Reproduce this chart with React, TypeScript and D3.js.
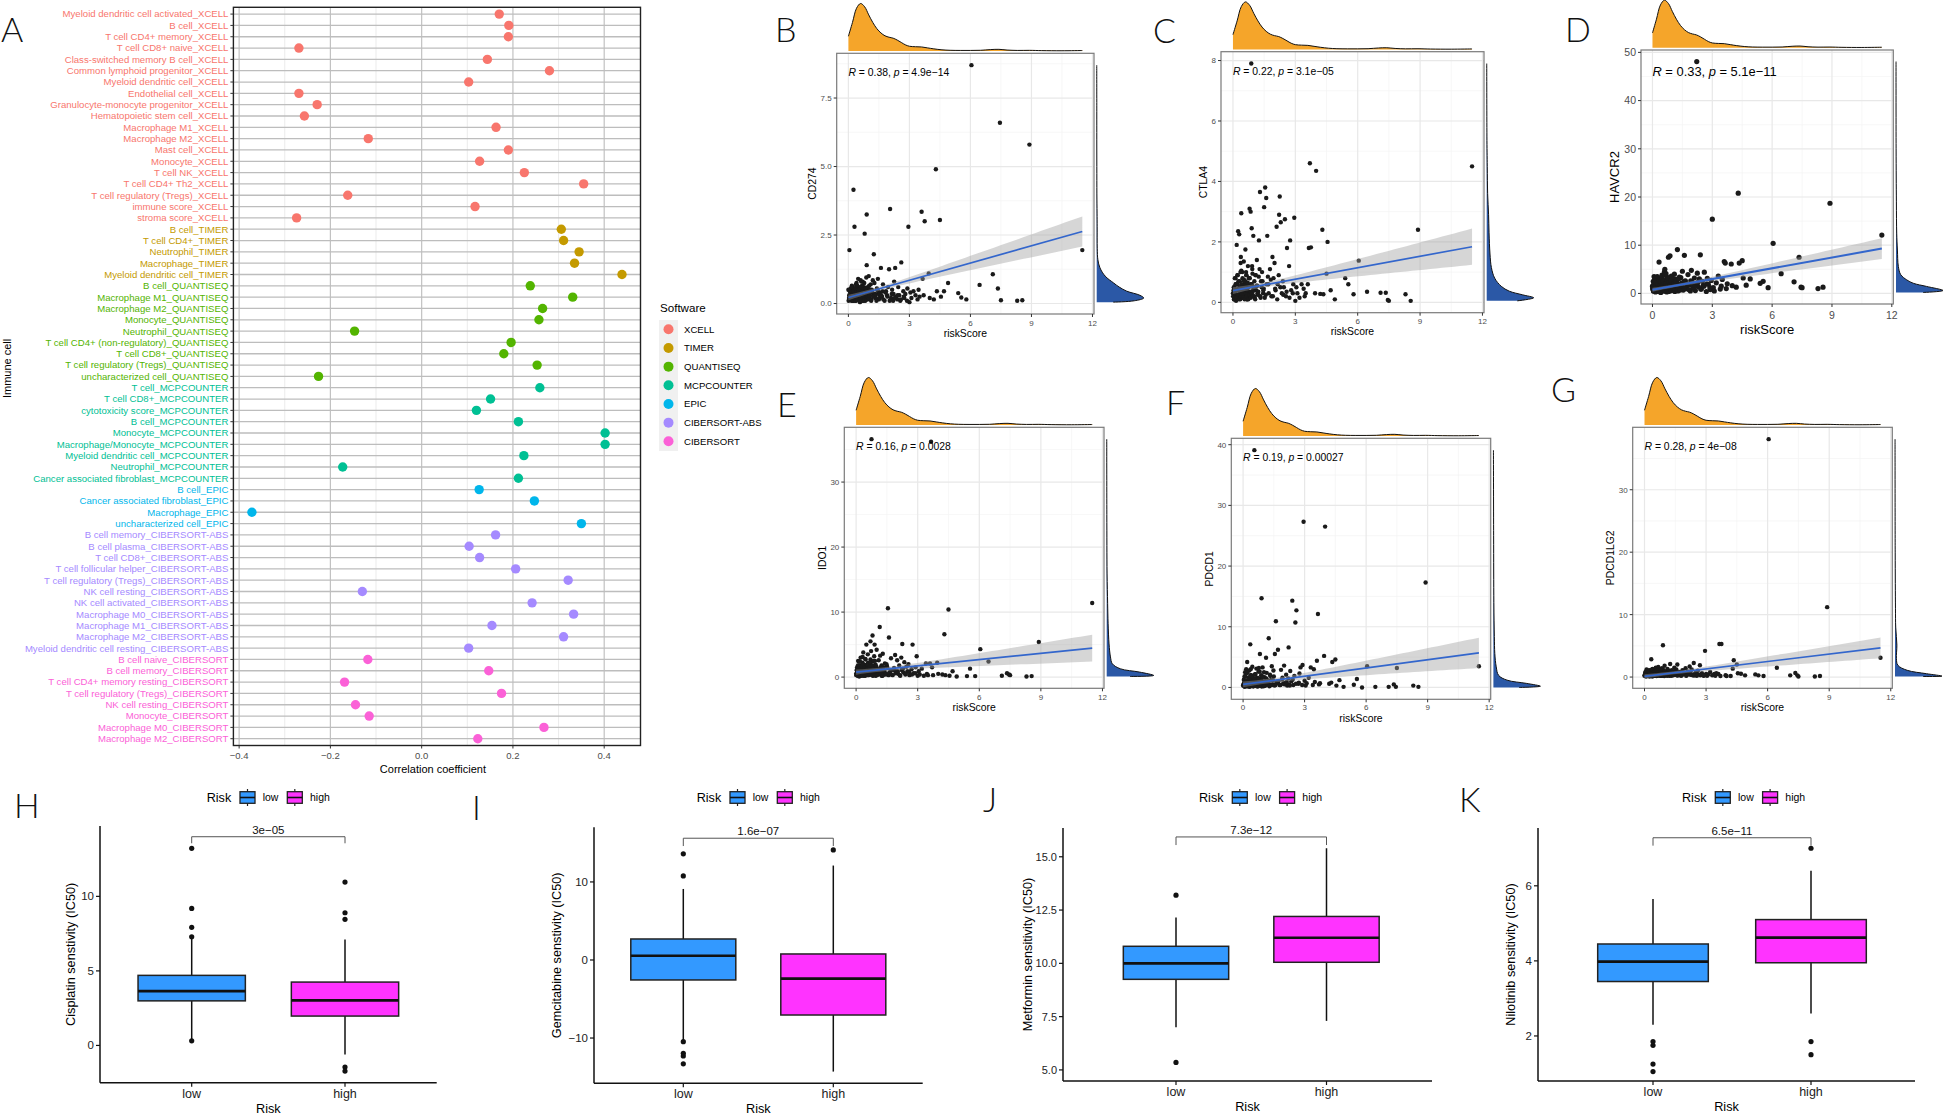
import React from "react";
import * as d3 from "d3";

const FONT = "'Liberation Sans', Arial, Helvetica, sans-serif";
const LETTER_FONT = "Lato, 'Open Sans', 'DejaVu Sans', sans-serif";

// ---------------- Panel A data ----------------
const immuneCells = [
  "Myeloid dendritic cell activated_XCELL", "B cell_XCELL", "T cell CD4+ memory_XCELL", "T cell CD8+ naive_XCELL",
  "Class-switched memory B cell_XCELL", "Common lymphoid progenitor_XCELL", "Myeloid dendritic cell_XCELL",
  "Endothelial cell_XCELL", "Granulocyte-monocyte progenitor_XCELL", "Hematopoietic stem cell_XCELL",
  "Macrophage M1_XCELL", "Macrophage M2_XCELL", "Mast cell_XCELL", "Monocyte_XCELL", "T cell NK_XCELL",
  "T cell CD4+ Th2_XCELL", "T cell regulatory (Tregs)_XCELL", "immune score_XCELL", "stroma score_XCELL",
  "B cell_TIMER", "T cell CD4+_TIMER", "Neutrophil_TIMER", "Macrophage_TIMER", "Myeloid dendritic cell_TIMER",
  "B cell_QUANTISEQ", "Macrophage M1_QUANTISEQ", "Macrophage M2_QUANTISEQ", "Monocyte_QUANTISEQ",
  "Neutrophil_QUANTISEQ", "T cell CD4+ (non-regulatory)_QUANTISEQ", "T cell CD8+_QUANTISEQ",
  "T cell regulatory (Tregs)_QUANTISEQ", "uncharacterized cell_QUANTISEQ",
  "T cell_MCPCOUNTER", "T cell CD8+_MCPCOUNTER", "cytotoxicity score_MCPCOUNTER", "B cell_MCPCOUNTER",
  "Monocyte_MCPCOUNTER", "Macrophage/Monocyte_MCPCOUNTER", "Myeloid dendritic cell_MCPCOUNTER",
  "Neutrophil_MCPCOUNTER", "Cancer associated fibroblast_MCPCOUNTER",
  "B cell_EPIC", "Cancer associated fibroblast_EPIC", "Macrophage_EPIC", "uncharacterized cell_EPIC",
  "B cell memory_CIBERSORT-ABS", "B cell plasma_CIBERSORT-ABS", "T cell CD8+_CIBERSORT-ABS",
  "T cell follicular helper_CIBERSORT-ABS", "T cell regulatory (Tregs)_CIBERSORT-ABS", "NK cell resting_CIBERSORT-ABS",
  "NK cell activated_CIBERSORT-ABS", "Macrophage M0_CIBERSORT-ABS", "Macrophage M1_CIBERSORT-ABS",
  "Macrophage M2_CIBERSORT-ABS", "Myeloid dendritic cell resting_CIBERSORT-ABS",
  "B cell naive_CIBERSORT", "B cell memory_CIBERSORT", "T cell CD4+ memory resting_CIBERSORT",
  "T cell regulatory (Tregs)_CIBERSORT", "NK cell resting_CIBERSORT", "Monocyte_CIBERSORT",
  "Macrophage M0_CIBERSORT", "Macrophage M2_CIBERSORT",
];
const correlationCoef = [
  0.170, 0.191, 0.190, -0.269, 0.144, 0.280, 0.103, -0.269, -0.229, -0.257,
  0.163, -0.117, 0.190, 0.127, 0.225, 0.355, -0.162, 0.117, -0.274,
  0.306, 0.311, 0.345, 0.335, 0.439,
  0.238, 0.331, 0.265, 0.257, -0.147, 0.196, 0.180, 0.253, -0.226,
  0.259, 0.151, 0.120, 0.212, 0.402, 0.402, 0.224, -0.173, 0.212,
  0.126, 0.247, -0.372, 0.350,
  0.162, 0.104, 0.127, 0.206, 0.321, -0.130, 0.242, 0.333, 0.154, 0.311, 0.103,
  -0.118, 0.147, -0.169, 0.175, -0.145, -0.115, 0.268, 0.123,
];
const softwareLevels = ["XCELL", "TIMER", "QUANTISEQ", "MCPCOUNTER", "EPIC", "CIBERSORT-ABS", "CIBERSORT"];
const softwareColors = ["#F8766D", "#C49A00", "#53B400", "#00C094", "#00B6EB", "#A58AFF", "#FB61D7"];
const corrTicks = [-0.4, -0.2, 0, 0.2, 0.4];

// ---------------- Scatter data (B-G) ----------------
const riskScoreCluster = [
  0.0, 0.05, 0.08, 0.1, 0.12, 0.15, 0.18, 0.2, 0.22, 0.25,
  0.28, 0.3, 0.33, 0.35, 0.38, 0.4, 0.42, 0.45, 0.48, 0.5,
  0.52, 0.55, 0.57, 0.6, 0.62, 0.65, 0.67, 0.7, 0.72, 0.75,
  0.78, 0.8, 0.82, 0.85, 0.88, 0.9, 0.93, 0.95, 0.98, 1.0,
  1.05, 1.1, 1.12, 1.15, 1.2, 1.25, 1.3, 1.35, 1.4, 1.45,
  1.5, 1.55, 1.6, 1.65, 1.7, 1.78, 1.85, 1.9, 1.95, 2.0,
  2.05, 2.1, 2.15, 2.2, 2.22, 2.25, 2.3, 2.35, 2.4, 2.45,
  2.5, 2.55, 2.6, 2.7, 2.75, 2.8, 2.9, 2.95, 3.0, 3.05,
  3.1, 3.2, 3.3, 3.4, 3.45, 3.5, 0.4, 0.6, 0.7, 0.9,
  0.03, 0.07, 0.13, 0.17, 0.23, 0.27, 0.32, 0.37, 0.43, 0.47,
  0.53, 0.58, 0.63, 0.68, 0.73, 0.77, 0.83, 0.87, 0.92, 0.97,
  1.02, 1.08, 1.17, 1.22, 1.28, 1.33, 1.42, 1.48, 1.58, 1.68,
  0.01, 0.04, 0.06, 0.09, 0.11, 0.14, 0.16, 0.19, 0.21, 0.24,
  0.26, 0.29, 0.31, 0.34, 0.36, 0.39, 0.41, 0.44, 0.46, 0.49,
  0.51, 0.54, 0.56, 0.59, 0.61, 0.64, 0.66, 0.69, 0.71, 0.74,
  0.76, 0.79, 0.81, 0.84, 0.86, 0.89, 0.91, 0.94, 0.96, 0.99,
  1.03, 1.07, 1.13, 1.18, 1.24, 1.31, 1.38, 1.46, 1.53, 1.62,
  1.72, 1.82, 1.92, 2.03, 2.13, 2.28, 2.42, 2.58, 2.72, 2.88,
];
const riskScoreTail = [3.6, 3.65, 3.7, 3.75, 3.95, 4.0, 4.2, 4.3, 4.35, 4.5, 4.55, 4.7, 4.9, 5.4, 5.55, 5.8, 6.05, 6.45, 7.1, 7.35, 7.45, 7.5, 8.3, 8.55, 8.9, 11.5];

const cd274Cluster = [
  0.5, 1.95, 0.3, 0.15, 0.55, 0.1, 0.4, 0.2, 0.6, 4.15,
  0.25, 2.8, 0.5, 0.1, 0.35, 0.75, 0.2, 0.45, 0.9, 0.15,
  0.6, 0.3, 0.05, 0.85, 0.4, 0.2, 0.65, 0.1, 0.5, 0.3,
  0.75, 2.55, 0.2, 0.45, 0.95, 3.25, 0.15, 0.6, 0.35, 1.0,
  0.25, 0.7, 0.1, 0.5, 0.85, 1.8, 0.3, 0.2, 0.55, 0.9,
  0.15, 0.4, 1.3, 0.25, 0.7, 0.1, 0.45, 0.3, 0.6, 1.25,
  3.45, 0.2, 0.5, 0.1, 0.35, 0.8, 1.3, 0.25, 0.15, 0.6,
  0.3, 0.1, 1.5, 0.45, 0.2, 0.35, 0.55, 2.8, 0.05, 0.4,
  0.2, 0.45, 0.3, 0.15, 0.5, 0.25, 0.6, 0.35, 0.8, 1.4,
  0.2, 0.45, 0.3, 0.65, 0.1, 0.5, 0.25, 0.7, 0.15, 0.4,
  0.55, 0.3, 0.8, 0.2, 0.45, 0.6, 0.1, 0.35, 0.5, 0.25,
  0.65, 0.15, 0.4, 0.3, 0.75, 0.2, 0.5, 0.35, 0.25, 0.45,
  0.1, 0.3, 0.5, 0.2, 0.4, 0.15, 0.6, 0.25, 0.35, 0.1,
  0.45, 0.2, 0.3, 0.55, 0.1, 0.4, 0.25, 0.65, 0.15, 0.35,
  0.5, 0.1, 0.3, 0.2, 0.45, 0.6, 0.15, 0.35, 0.25, 0.5,
  0.1, 0.4, 0.2, 0.3, 0.55, 0.15, 0.45, 0.25, 0.35, 0.2,
  0.3, 0.5, 0.15, 0.4, 0.25, 0.35, 0.1, 0.45, 0.2, 0.3,
  0.15, 0.4, 0.25, 0.1, 0.35, 0.2, 0.3, 0.15, 0.25, 0.1,
];
const cd274Tail = [3.35, 0.9, 0.3, 3.0, 1.1, 0.2, 0.15, 4.9, 0.45, 3.05, 0.25, 0.45, 0.75, 0.38, 0.22, 0.15, 8.7, 0.68, 1.07, 0.55, 6.6, 0.12, 0.1, 0.12, 5.8, 1.95];

const ctla4Cluster = [
  0.3, 0.1, 0.5, 0.2, 0.8, 0.05, 1.9, 0.4, 0.6, 2.35,
  0.25, 2.25, 0.7, 0.1, 1.5, 2.95, 0.35, 1.0, 0.5, 0.15,
  1.35, 0.6, 0.2, 1.75, 0.4, 0.9, 0.1, 0.55, 1.2, 0.3,
  0.8, 3.1, 0.2, 3.0, 7.9, 0.6, 1.1, 0.35, 2.2, 0.5,
  0.15, 0.9, 0.4, 1.4, 0.25, 2.05, 3.65, 0.7, 1.0, 0.3,
  3.15, 3.8, 3.45, 2.2, 0.6, 1.1, 0.2, 1.5, 0.8, 1.3,
  0.4, 2.5, 0.6, 0.9, 2.9, 3.5, 2.65, 0.3, 0.7, 0.5,
  2.75, 0.2, 1.8, 1.2, 2.05, 0.4, 0.6, 2.8, 0.05, 0.5,
  0.3, 0.15, 0.6, 0.45, 0.2, 0.3, 1.05, 0.7, 0.2, 2.45,
  0.4, 0.1, 0.6, 0.25, 0.9, 0.45, 0.15, 1.3, 0.5, 0.2,
  0.75, 0.35, 1.0, 0.1, 0.5, 0.8, 0.3, 0.6, 1.2, 0.4,
  0.2, 0.9, 0.55, 0.35, 1.1, 0.15, 0.7, 0.45, 0.25, 0.85,
  0.2, 0.5, 0.1, 0.8, 0.3, 0.6, 0.15, 0.4, 0.9, 0.25,
  0.7, 0.1, 0.5, 0.35, 1.0, 0.2, 0.6, 0.3, 0.8, 0.15,
  0.45, 0.7, 0.1, 0.55, 0.3, 0.9, 0.2, 0.4, 0.65, 0.1,
  0.5, 0.25, 0.8, 0.35, 0.15, 0.6, 0.3, 0.95, 0.2, 0.45,
  0.7, 0.1, 0.55, 0.3, 0.85, 0.2, 0.5, 0.4, 0.15, 0.6,
  0.3, 0.75, 0.2, 0.45, 0.1, 0.5, 0.25, 0.35, 0.15, 0.3,
];
const ctla4Tail = [0.6, 1.8, 4.6, 1.82, 0.3, 4.35, 0.28, 2.4, 0.27, 0.95, 2.0, 0.4, 0.1, 0.8, 0.6, 0.27, 1.38, 0.35, 0.32, 0.32, 0.08, 0.05, 0.27, 0.05, 2.4, 4.5];

const havcr2Cluster = [
  1.5, 0.5, 3.5, 1.0, 2.2, 0.3, 1.8, 0.8, 2.6, 1.2,
  0.4, 3.0, 6.5, 1.6, 0.9, 2.4, 0.2, 1.3, 3.8, 0.7,
  2.0, 1.1, 0.5, 4.5, 5.0, 1.4, 0.8, 2.8, 0.3, 1.9,
  3.3, 7.5, 1.0, 2.2, 7.8, 0.6, 1.5, 3.6, 0.9, 2.5,
  1.2, 4.0, 0.4, 1.7, 2.9, 9.1, 0.8, 3.4, 1.3, 2.1,
  4.6, 0.7, 7.9, 2.6, 1.0, 3.9, 1.8, 0.5, 4.8, 2.3,
  1.1, 3.2, 0.6, 2.0, 48.1, 4.2, 1.4, 3.0, 8.0, 0.9,
  2.5, 1.6, 4.4, 0.4, 3.1, 1.9, 0.8, 2.7, 15.4, 1.2,
  0.5, 2.2, 3.6, 0.9, 1.5, 2.9, 1.7, 0.6, 2.4, 1.1,
  0.8, 2.0, 1.2, 3.2, 0.5, 1.6, 2.7, 0.9, 1.3, 3.5,
  0.7, 2.3, 1.0, 4.1, 0.4, 1.8, 2.6, 1.1, 0.6, 2.0,
  3.0, 0.9, 1.4, 2.2, 0.5, 1.7, 3.3, 0.8, 2.5, 1.2,
  1.0, 2.5, 0.5, 1.8, 3.0, 0.8, 1.5, 2.2, 0.4, 3.5,
  1.2, 2.0, 0.7, 2.8, 1.6, 0.3, 2.4, 1.1, 3.2, 0.6,
  1.9, 2.6, 0.9, 1.4, 3.8, 0.5, 2.1, 1.3, 2.9, 0.8,
  1.7, 3.1, 0.4, 2.3, 1.0, 1.5, 2.7, 0.6, 1.8, 3.4,
  1.2, 2.0, 0.9, 2.5, 1.4, 3.0, 0.7, 1.6, 2.2, 1.1,
  1.9, 0.8, 2.6, 1.3, 1.7, 2.3, 0.9, 1.5, 2.0, 1.2,
];
const havcr2Tail = [6.6, 6.3, 1.0, 2.0, 6.1, 1.6, 1.3, 20.8, 6.3, 6.8, 3.2, 1.7, 3.0, 2.1, 2.5, 1.2, 10.4, 4.1, 2.4, 7.5, 1.3, 1.2, 1.0, 1.3, 18.7, 12.1];

const ido1Cluster = [
  0.5, 1.5, 0.2, 2.5, 0.8, 0.1, 1.8, 0.4, 3.0, 1.0,
  0.3, 2.2, 0.6, 3.8, 0.2, 1.2, 0.9, 2.8, 0.5, 5.0,
  1.6, 0.3, 3.5, 0.8, 2.0, 0.4, 1.3, 5.5, 0.6, 36.6,
  2.4, 6.4, 0.2, 1.1, 3.2, 5.0, 0.7, 1.9, 0.3, 4.2,
  1.0, 2.6, 0.5, 7.7, 1.5, 0.2, 3.6, 0.8, 2.1, 0.4,
  1.7, 10.6, 6.1, 0.6, 2.9, 0.3, 1.4, 3.4, 0.9, 2.6,
  0.5, 1.8, 0.2, 3.0, 1.1, 5.1, 0.7, 2.3, 0.4, 1.6,
  0.9, 2.0, 0.3, 1.2, 5.0, 0.6, 1.5, 3.2, 0.2, 0.9,
  0.4, 1.3, 0.2, 2.1, 0.5, 0.3, 1.9, 0.8, 2.7, 0.6,
  1.1, 0.3, 2.4, 0.7, 1.6, 0.2, 3.1, 0.9, 0.5, 1.4,
  0.8, 2.2, 0.4, 1.0, 4.0, 0.6, 1.8, 0.3, 2.5, 0.7,
  1.2, 0.4, 3.3, 0.9, 0.2, 1.5, 0.6, 2.0, 0.3, 1.1,
  0.3, 1.0, 0.6, 1.8, 0.2, 1.3, 0.8, 2.4, 0.4, 1.1,
  0.7, 1.6, 0.3, 2.0, 0.9, 0.5, 1.4, 0.2, 2.7, 0.6,
  1.2, 0.4, 1.9, 0.8, 0.3, 1.5, 0.6, 2.2, 1.0, 0.4,
  1.7, 0.3, 1.1, 0.7, 2.5, 0.5, 1.3, 0.9, 0.2, 1.6,
  0.8, 0.4, 1.2, 0.6, 1.8, 0.3, 1.0, 0.5, 1.4, 0.7,
  0.4, 1.1, 0.6, 0.9, 0.3, 1.3, 0.5, 0.8, 0.4, 0.6,
];
const ido1Tail = [2.1, 36.2, 1.5, 0.3, 2.2, 0.5, 0.4, 6.6, 0.3, 10.4, 0.2, 0.9, 0.1, 0.15, 1.3, 0.15, 4.3, 2.4, 0.2, 0.6, 0.4, 0.3, 0.1, 0.15, 5.4, 11.4];

const pdcd1Cluster = [
  0.3, 1.2, 0.1, 2.5, 0.5, 3.0, 0.2, 4.2, 0.8, 1.6,
  0.4, 2.8, 0.1, 7.1, 0.6, 1.9, 0.3, 3.4, 0.9, 0.2,
  1.4, 39.1, 0.5, 2.2, 0.7, 3.1, 0.2, 1.1, 0.4, 2.6,
  0.8, 1.5, 5.5, 0.3, 2.0, 14.7, 0.6, 3.3, 1.0, 0.2,
  1.7, 0.4, 4.9, 2.4, 0.7, 8.1, 0.3, 1.2, 3.5, 0.5,
  1.8, 5.5, 10.9, 0.9, 6.2, 0.4, 2.9, 1.3, 0.6, 3.6,
  0.8, 2.1, 0.3, 1.5, 6.6, 0.5, 2.7, 1.0, 14.3, 0.4,
  1.9, 10.7, 12.7, 0.6, 2.3, 3.3, 3.7, 27.3, 1.1, 0.3,
  0.7, 1.6, 3.3, 0.4, 3.0, 0.9, 2.0, 0.5, 1.3, 0.2,
  0.6, 1.8, 0.3, 2.4, 0.9, 0.2, 1.4, 3.0, 0.5, 1.1,
  0.3, 2.1, 0.7, 1.5, 0.2, 3.2, 0.8, 0.4, 1.7, 0.6,
  2.5, 0.3, 1.2, 0.9, 0.2, 1.9, 0.5, 2.8, 0.4, 1.0,
  0.4, 1.3, 0.2, 0.8, 1.9, 0.3, 1.1, 0.6, 2.4, 0.2,
  0.9, 1.5, 0.4, 0.7, 2.0, 0.3, 1.2, 0.5, 1.7, 0.2,
  0.8, 1.4, 0.3, 2.2, 0.6, 1.0, 0.4, 1.6, 0.2, 0.9,
  1.3, 0.5, 2.6, 0.3, 0.7, 1.1, 0.2, 1.8, 0.6, 0.4,
  1.0, 0.3, 1.5, 0.5, 0.8, 2.1, 0.4, 1.2, 0.3, 0.7,
  1.0, 0.4, 1.6, 0.5, 0.9, 0.3, 1.3, 0.6, 0.8, 0.4,
];
const pdcd1Tail = [4.4, 12.1, 0.5, 0.7, 5.2, 26.5, 0.6, 0.8, 4.2, 4.6, 0.3, 1.2, 0.1, 0.45, 1.4, 0.0, 3.5, 0.1, 0.1, 0.5, 0.1, 3.2, 0.3, 0.1, 17.3, 3.5];

const pdcd1lg2Cluster = [
  0.2, 0.8, 0.1, 1.2, 0.4, 0.6, 0.3, 1.0, 0.5, 0.2,
  0.9, 0.3, 2.85, 0.7, 0.1, 1.3, 0.5, 0.2, 1.1, 0.6,
  0.3, 1.5, 0.8, 0.2, 1.0, 0.4, 1.6, 0.6, 0.3, 1.2,
  0.5, 0.9, 0.2, 1.4, 0.7, 0.3, 1.1, 0.5, 1.8, 0.4,
  0.8, 0.2, 1.3, 0.6, 1.0, 2.1, 0.4, 0.9, 0.3, 1.5,
  0.6, 1.2, 2.0, 0.4, 0.8, 0.2, 1.1, 0.5, 0.7, 1.4,
  0.3, 0.9, 0.6, 1.7, 0.4, 0.8, 1.2, 0.3, 2.26, 0.5,
  0.7, 0.2, 1.0, 1.9, 0.4, 0.6, 0.3, 4.2, 0.5, 0.2,
  0.4, 0.8, 0.3, 0.5, 0.2, 0.6, 0.9, 0.4, 0.7, 5.1,
  0.5, 0.2, 0.8, 0.4, 1.1, 0.3, 0.6, 0.9, 0.2, 0.7,
  0.4, 1.0, 0.3, 0.6, 0.8, 0.2, 0.5, 1.3, 0.4, 0.7,
  0.3, 0.9, 0.5, 0.2, 0.6, 1.1, 0.4, 0.8, 0.3, 0.5,
  0.3, 0.7, 0.15, 0.5, 1.0, 0.2, 0.6, 0.4, 0.9, 0.1,
  0.5, 0.8, 0.25, 0.6, 1.2, 0.3, 0.45, 0.7, 0.2, 0.55,
  0.9, 0.35, 0.6, 0.15, 1.1, 0.4, 0.7, 0.25, 0.5, 0.8,
  0.3, 0.6, 1.0, 0.2, 0.45, 0.75, 0.35, 0.55, 0.15, 0.9,
  0.4, 0.65, 0.3, 0.8, 0.5, 0.2, 0.6, 0.35, 0.7, 0.25,
  0.5, 0.3, 0.6, 0.2, 0.45, 0.35, 0.25, 0.4, 0.3, 0.2,
];
const pdcd1lg2Tail = [0.5, 5.3, 0.16, 5.3, 0.3, 0.16, 0.16, 1.35, 2.7, 2.0, 0.6, 0.54, 0.27, 0.43, 0.27, 0.16, 38.1, 1.5, 0.27, 0.65, 0.27, 0.1, 0.1, 0.16, 11.2, 3.1];

// marginal densities: [value, relative height]
const riskScoreDensity = [
  [0, 0.31], [0.2, 0.6], [0.4, 0.9], [0.6, 1.0], [0.8, 0.93], [1.0, 0.76], [1.2, 0.6], [1.4, 0.47], [1.6, 0.38],
  [1.8, 0.32], [2.0, 0.29], [2.2, 0.27], [2.4, 0.23], [2.6, 0.18], [2.8, 0.13], [3.0, 0.1], [3.3, 0.09], [3.6, 0.085],
  [3.9, 0.065], [4.2, 0.045], [4.6, 0.025], [5.0, 0.015], [5.5, 0.012], [6.0, 0.012], [6.5, 0.015], [7.0, 0.03],
  [7.4, 0.035], [7.8, 0.02], [8.3, 0.012], [8.9, 0.014], [9.5, 0.008], [10.5, 0.005], [11.5, 0.01],
];
const cd274Density = [[0.05, 0.35], [0.1, 0.8], [0.2, 1.0], [0.3, 0.92], [0.45, 0.64], [0.6, 0.48], [0.75, 0.36], [1.0, 0.18], [1.3, 0.07], [1.6, 0.025], [2.0, 0.012], [2.8, 0.01], [3.3, 0.008], [4.0, 0.004], [5, 0.003], [6, 0.002], [7, 0.002], [8.7, 0.001]];
const ctla4Density = [[0.05, 0.65], [0.15, 1.0], [0.25, 0.76], [0.37, 0.48], [0.53, 0.31], [0.8, 0.17], [1.15, 0.1], [1.6, 0.07], [2.3, 0.05], [2.9, 0.04], [3.6, 0.02], [4.5, 0.012], [5.5, 0.005], [7.9, 0.001]];
const havcr2Density = [[0.2, 0.58], [0.6, 1.0], [1.45, 0.65], [2.1, 0.37], [2.8, 0.23], [3.9, 0.1], [5.6, 0.05], [9, 0.03], [12.5, 0.015], [19, 0.008], [30, 0.002], [48.1, 0.001]];
const ido1Density = [[0.1, 0.5], [0.25, 1.0], [0.77, 0.7], [1.28, 0.29], [2.05, 0.12], [3.1, 0.08], [5.1, 0.05], [8.2, 0.03], [11.3, 0.02], [16, 0.008], [25, 0.003], [36.6, 0.001]];
const pdcd1Density = [[0.0, 0.55], [0.2, 1.0], [0.66, 0.71], [1.2, 0.29], [2.0, 0.11], [3.4, 0.06], [5.6, 0.03], [8.4, 0.02], [14, 0.01], [25, 0.005], [39.1, 0.001]];
const pdcd1lg2Density = [[0.1, 0.6], [0.15, 1.0], [0.54, 0.67], [1.08, 0.26], [1.9, 0.06], [3, 0.03], [5.1, 0.04], [8, 0.015], [11, 0.01], [20, 0.004], [38.1, 0.001]];

const geneNames = ["CD274", "CTLA4", "HAVCR2", "IDO1", "PDCD1", "PDCD1LG2"];
const statR = ["0.38", "0.22", "0.33", "0.16", "0.19", "0.28"];
const statP = ["4.9e\u221214", "3.1e\u221205", "5.1e\u221211", "0.0028", "0.00027", "4e\u221208"];
const fitStart = [0.22, 0.39, 0.76, 0.77, 0.5, 0.11];
const fitEnd = [2.63, 1.84, 9.3, 4.45, 5.7, 4.68];
const fitHalfWidthEnd = [0.55, 0.6, 2.15, 2.07, 2.5, 1.67];
const fitHalfWidthMin = [0.07, 0.08, 0.3, 0.3, 0.35, 0.25];
const riskScoreTicks = [0, 3, 6, 9, 12];
const cd274Ticks = [0, 2.5, 5, 7.5];
const ctla4Ticks = [0, 2, 4, 6, 8];
const havcr2Ticks = [0, 10, 20, 30, 40, 50];
const ido1Ticks = [0, 10, 20, 30];
const pdcd1Ticks = [0, 10, 20, 30, 40];
const pdcd1lg2Ticks = [0, 10, 20, 30];

// ---------------- Box plot data (H-K): [lower whisker, Q1, median, Q3, upper whisker] ----------------
const riskGroups = ["low", "high"];
const riskColors = ["#3399FF", "#FF33FF"];
const cisplatinLow = [0.31, 2.99, 3.64, 4.70, 7.2];
const cisplatinHigh = [-0.6, 1.97, 3.02, 4.25, 7.11];
const cisplatinLowOut = [13.22, 9.19, 7.92, 7.29, 0.31];
const cisplatinHighOut = [10.96, 8.9, 8.46, -1.45, -1.72];
const gemcitabineLow = [-10.3, -2.56, 0.55, 2.69, 9.1];
const gemcitabineHigh = [-14.3, -7.05, -2.39, 0.77, 12.1];
const gemcitabineLowOut = [13.6, 10.77, -10.47, -11.96, -12.3, -13.3];
const gemcitabineHighOut = [14.1];
const metforminLow = [7.0, 9.25, 10.0, 10.8, 12.15];
const metforminHigh = [7.3, 10.05, 11.2, 12.2, 15.4];
const metforminLowOut = [13.2, 5.35];
const metforminHighOut = [];
const nilotinibLow = [2.3, 3.45, 3.98, 4.45, 5.65];
const nilotinibHigh = [2.6, 3.95, 4.62, 5.1, 6.4];
const nilotinibLowOut = [1.85, 1.75, 1.25, 1.05];
const nilotinibHighOut = [7.0, 1.85, 1.5];
const drugNames = ["Cisplatin senstivity (IC50)", "Gemcitabine senstivity (IC50)", "Metformin sensitivity (IC50)", "Nilotinib sensitivity (IC50)"];
const drugPValues = ["3e\u221205", "1.6e\u221207", "7.3e\u221212", "6.5e\u221211"];
const drugDomains = [[-2.5, 14.72], [-15.8, 17.0], [4.48, 16.35], [0.8, 7.54]];
const drugTicks = [[0, 5, 10], [-10, 0, 10], [5, 7.5, 10, 12.5, 15], [2, 4, 6]];
const drugTickFormats = ["d", "d", ".1f", "d"];
const drugBracket = [[14.0, 13.56], [15.6, 14.6], [15.93, 15.55], [7.28, 7.07]];

// ---------------- Layouts ----------------
const scatterLayout = [
  { l: 836.7, t: 53.3, r: 1094, b: 314, tick: 8, title: 10.4, ann: 10.4, ytx: 812, xlab: 12, xtitle: 23, annDy: 22.7, pr: 2.2, lw: 1.7 },
  { l: 1221, t: 51.7, r: 1484, b: 312.7, tick: 8, title: 10.4, ann: 10.4, ytx: 1203, xlab: 11, xtitle: 22.5, annDy: 23.3, pr: 2.2, lw: 1.7 },
  { l: 1641, t: 50, r: 1893.3, b: 304, tick: 10.5, title: 13, ann: 12.9, ytx: 1614, xlab: 15, xtitle: 29.5, annDy: 26, pr: 2.6, lw: 2.0 },
  { l: 844.3, t: 427.3, r: 1104, b: 688.3, tick: 8, title: 10.4, ann: 10.4, ytx: 822, xlab: 11.5, xtitle: 23, annDy: 22.7, pr: 2.2, lw: 1.7 },
  { l: 1231.3, t: 438.3, r: 1490.7, b: 699.3, tick: 8, title: 10.4, ann: 10.4, ytx: 1209.5, xlab: 11, xtitle: 22.5, annDy: 22.7, pr: 2.2, lw: 1.7 },
  { l: 1632.7, t: 427.3, r: 1892.3, b: 688.3, tick: 8, title: 10.4, ann: 10.4, ytx: 1610.5, xlab: 11.5, xtitle: 23, annDy: 22.7, pr: 2.2, lw: 1.7 },
];
// box panels: axis extent, pixel centre of "low" group and pixel distance between groups
const boxLayout = [
  { l: 100, r: 436.7, t: 826, b: 1082.7, ytx: 70, lowX: 191.7, unit: 153.3, legendX: 206.7, tickFs: 11.5 },
  { l: 594, r: 922.7, t: 827.3, b: 1083.3, ytx: 556, lowX: 683.3, unit: 150, legendX: 696.7, tickFs: 11.5 },
  { l: 1063, r: 1432, t: 828, b: 1081, ytx: 1027, lowX: 1176, unit: 150.5, legendX: 1199, tickFs: 11 },
  { l: 1538, r: 1915, t: 828, b: 1081, ytx: 1510, lowX: 1653, unit: 158, legendX: 1682, tickFs: 11.5 },
];
const letters = [
  ["A", 1, 42], ["B", 775, 42], ["C", 1153, 43], ["D", 1565, 42], ["E", 777, 417], ["F", 1166, 415],
  ["G", 1551, 402], ["H", 14, 818], ["I", 472, 820], ["J", 983, 812], ["K", 1459, 812],
];

function expandExtent(values, mult = 0.05) {
  const e = d3.extent(values);
  const p = (e[1] - e[0]) * mult;
  return [e[0] - p, e[1] + p];
}

function minorTicks(ticks, domain) {
  const step = ticks[1] - ticks[0];
  return d3.range(ticks[0] - step / 2, domain[1], step).filter((v) => v > domain[0] && v < domain[1]);
}

function CorrelationPanel() {
  const L = 233.4, R = 640.5, T = 7.3, B = 745.5;
  const x = d3.scaleLinear().domain(expandExtent(correlationCoef)).range([L, R]);
  const y = d3.scalePoint().domain(immuneCells).range([T, B]).padding(0.6);
  const color = d3.scaleOrdinal().domain(softwareLevels).range(softwareColors);
  const softwareOf = (n) => n.slice(n.lastIndexOf("_") + 1);
  const minor = corrTicks.slice(0, -1).map((t, i) => (t + corrTicks[i + 1]) / 2);
  const fmt = d3.format(".1f");
  return (
    <g fontFamily={FONT}>
      <rect x={L} y={T} width={R - L} height={B - T} fill="#fff" />
      {minor.map((v) => (
        <line key={"mi" + v} x1={x(v)} x2={x(v)} y1={T} y2={B} stroke="#E6E6E6" strokeWidth={0.8} />
      ))}
      {corrTicks.map((v) => (
        <line key={"ma" + v} x1={x(v)} x2={x(v)} y1={T} y2={B} stroke="#C2C2C2" strokeWidth={1.2} />
      ))}
      {immuneCells.map((c) => (
        <line key={"h" + c} x1={L} x2={R} y1={y(c)} y2={y(c)} stroke="#BDBDBD" strokeWidth={1.3} />
      ))}
      {immuneCells.map((c, i) => (
        <circle key={"p" + c} cx={x(correlationCoef[i])} cy={y(c)} r={4.7} fill={color(softwareOf(c))} />
      ))}
      <rect x={L} y={T} width={R - L} height={B - T} fill="none" stroke="#222" strokeWidth={1.4} />
      {immuneCells.map((c) => (
        <line key={"t" + c} x1={L - 3} x2={L} y1={y(c)} y2={y(c)} stroke="#333" strokeWidth={1} />
      ))}
      {immuneCells.map((c) => (
        <text key={"l" + c} x={L - 5} y={y(c) + 3.4} textAnchor="end" fontSize={9.6} fill={color(softwareOf(c))}>
          {c}
        </text>
      ))}
      {corrTicks.map((v) => (
        <g key={"xt" + v}>
          <line x1={x(v)} x2={x(v)} y1={B} y2={B + 3} stroke="#333" strokeWidth={1} />
          <text x={x(v)} y={B + 13} textAnchor="middle" fontSize={9.5} fill="#4D4D4D">
            {v === 0 ? "0.0" : fmt(v).replace("-", "\u2212")}
          </text>
        </g>
      ))}
      <text x={(L + R) / 2 - 4} y={B + 27} textAnchor="middle" fontSize={11} fill="#000">Correlation coefficient</text>
      <text transform={`translate(11,${(T + B) / 2 - 8}) rotate(-90)`} textAnchor="middle" fontSize={11} fill="#000">Immune cell</text>
      {/* legend */}
      <text x={660} y={312} fontSize={11.6} fill="#000">Software</text>
      <rect x={659} y={320} width={19} height={131} fill="#F0F0F0" />
      {softwareLevels.map((s, i) => (
        <g key={"lg" + s}>
          <circle cx={668.5} cy={329.3 + i * 18.67} r={5} fill={softwareColors[i]} />
          <text x={684} y={329.3 + i * 18.67 + 3.4} fontSize={9.6} fill="#000">{s}</text>
        </g>
      ))}
    </g>
  );
}

function ScatterPanel({ idx, values, tail, density, ticks, tickFmt }) {
  const lay = scatterLayout[idx];
  const xsData = riskScoreCluster.concat(riskScoreTail);
  const ysData = values.concat(tail);
  const xDom = expandExtent(xsData);
  const yDom = expandExtent(ysData);
  const x = d3.scaleLinear().domain(xDom).range([lay.l, lay.r]);
  const y = d3.scaleLinear().domain(yDom).range([lay.b, lay.t]);
  const xMinor = minorTicks(riskScoreTicks, xDom);
  const yMinor = minorTicks(ticks, yDom);
  const fmt = d3.format(tickFmt);
  const xMin = d3.min(xsData), xMax = d3.max(xsData);
  // regression line and confidence band
  const a = fitStart[idx];
  const b = (fitEnd[idx] - fitStart[idx]) / (xMax - xMin);
  const hMin = fitHalfWidthMin[idx];
  const xm = 1.3;
  const k = Math.sqrt(Math.max(fitHalfWidthEnd[idx] ** 2 - hMin ** 2, 0)) / (xMax - xm);
  const samples = d3.range(41).map((i) => xMin + ((xMax - xMin) * i) / 40);
  const hw = (v) => Math.sqrt(hMin * hMin + k * k * (v - xm) * (v - xm));
  const band = d3.area().x((v) => x(v)).y0((v) => y(a + b * v - hw(v))).y1((v) => y(a + b * v + hw(v)))(samples);
  // marginal densities
  const topBase = lay.t - 2.3, topH = 47.5;
  const topArea = d3.area().x((d) => x(d[0])).y0(topBase).y1((d) => topBase - d[1] * topH).curve(d3.curveCatmullRom)(riskScoreDensity);
  const topLine = d3.line().x((d) => x(d[0])).y((d) => topBase - d[1] * topH).curve(d3.curveCatmullRom)(riskScoreDensity);
  const rBase = lay.r + 2.7, rW = 47;
  const rArea = d3.area().y((d) => y(d[0])).x0(rBase).x1((d) => rBase + d[1] * rW).curve(d3.curveCatmullRom)(density);
  const rLine = d3.line().y((d) => y(d[0])).x((d) => rBase + d[1] * rW).curve(d3.curveCatmullRom)(density);
  const yMaxV = d3.max(ysData);
  return (
    <g fontFamily={FONT}>
      <path d={topArea} fill="#F5A52A" />
      <path d={topLine} fill="none" stroke="#111" strokeWidth={1} />
      <path d={rArea} fill="#2B58A6" />
      <path d={rLine} fill="none" stroke="#111" strokeWidth={1} />
      <line x1={rBase} x2={rBase} y1={y(density[density.length - 1][0])} y2={y(yMaxV)} stroke="#111" strokeWidth={1} />
      <rect x={lay.l} y={lay.t} width={lay.r - lay.l} height={lay.b - lay.t} fill="#fff" />
      {xMinor.map((v) => <line key={"xm" + v} x1={x(v)} x2={x(v)} y1={lay.t} y2={lay.b} stroke="#F3F3F3" strokeWidth={0.7} />)}
      {yMinor.map((v) => <line key={"ym" + v} x1={lay.l} x2={lay.r} y1={y(v)} y2={y(v)} stroke="#F3F3F3" strokeWidth={0.7} />)}
      {riskScoreTicks.map((v) => <line key={"xM" + v} x1={x(v)} x2={x(v)} y1={lay.t} y2={lay.b} stroke="#E8E8E8" strokeWidth={1.2} />)}
      {ticks.map((v) => <line key={"yM" + v} x1={lay.l} x2={lay.r} y1={y(v)} y2={y(v)} stroke="#E8E8E8" strokeWidth={1.2} />)}
      {xsData.map((v, i) => (
        <circle key={"pt" + i} cx={x(v)} cy={y(ysData[i])} r={lay.pr} fill="#1A1A1A" />
      ))}
      <path d={band} fill="#9E9E9E" fillOpacity={0.42} />
      <line x1={x(xMin)} x2={x(xMax)} y1={y(a + b * xMin)} y2={y(a + b * xMax)} stroke="#3366CC" strokeWidth={lay.lw} />
      <rect x={lay.l} y={lay.t} width={lay.r - lay.l} height={lay.b - lay.t} fill="none" stroke="#7A7A7A" strokeWidth={1.2} />
      {riskScoreTicks.map((v) => (
        <g key={"xt" + v}>
          <line x1={x(v)} x2={x(v)} y1={lay.b} y2={lay.b + 3} stroke="#333" strokeWidth={1} />
          <text x={x(v)} y={lay.b + lay.xlab} textAnchor="middle" fontSize={lay.tick} fill="#4D4D4D">{v}</text>
        </g>
      ))}
      {ticks.map((v) => (
        <g key={"yt" + v}>
          <line x1={lay.l - 3} x2={lay.l} y1={y(v)} y2={y(v)} stroke="#333" strokeWidth={1} />
          <text x={lay.l - 5} y={y(v) + lay.tick * 0.36} textAnchor="end" fontSize={lay.tick} fill="#4D4D4D">{fmt(v)}</text>
        </g>
      ))}
      <text x={(lay.l + lay.r) / 2} y={lay.b + lay.xtitle} textAnchor="middle" fontSize={lay.title} fill="#000">riskScore</text>
      <text transform={`translate(${lay.ytx + lay.title * 0.36},${(lay.t + lay.b) / 2}) rotate(-90)`} textAnchor="middle" fontSize={lay.title} fill="#000">
        {geneNames[idx]}
      </text>
      <text x={x(xMin)} y={lay.t + lay.annDy} fontSize={lay.ann} fill="#000">
        <tspan fontStyle="italic">R</tspan>
        <tspan>{" = " + statR[idx] + ", "}</tspan>
        <tspan fontStyle="italic">p</tspan>
        <tspan>{" = " + statP[idx]}</tspan>
      </text>
    </g>
  );
}

function BoxKey({ x, yc, fill }) {
  return (
    <g>
      <line x1={x + 7.5} x2={x + 7.5} y1={yc - 8.5} y2={yc + 8.5} stroke="#222" strokeWidth={1.2} />
      <rect x={x} y={yc - 5.8} width={15} height={11.6} fill={fill} stroke="#222" strokeWidth={1.3} />
      <line x1={x} x2={x + 15} y1={yc} y2={yc} stroke="#111" strokeWidth={1.6} />
    </g>
  );
}

function BoxPanel({ idx, low, high, lowOut, highOut }) {
  const lay = boxLayout[idx];
  const y = d3.scaleLinear().domain(drugDomains[idx]).range([lay.b, lay.t]);
  const x = d3.scaleLinear().domain([1, 2]).range([lay.lowX, lay.lowX + lay.unit]);
  const fmt = d3.format(drugTickFormats[idx]);
  const groups = [
    { k: riskGroups[0], pos: 1, s: low, out: lowOut, fill: riskColors[0] },
    { k: riskGroups[1], pos: 2, s: high, out: highOut, fill: riskColors[1] },
  ];
  const half = 0.35;
  const cx = (lay.l + lay.r) / 2;
  const ls = lay.legendX, lyc = 797.5;
  const [bY, bT] = drugBracket[idx];
  return (
    <g fontFamily={FONT}>
      {/* legend */}
      <text x={ls} y={lyc + 4.6} fontSize={12.6} fill="#000">Risk</text>
      <BoxKey x={ls + 33.3} yc={lyc} fill={riskColors[0]} />
      <text x={ls + 56} y={lyc + 3.8} fontSize={10.5} fill="#000">{riskGroups[0]}</text>
      <BoxKey x={ls + 80.6} yc={lyc} fill={riskColors[1]} />
      <text x={ls + 103.3} y={lyc + 3.8} fontSize={10.5} fill="#000">{riskGroups[1]}</text>
      {groups.map((g) => {
        const [lo, q1, med, q3, hi] = g.s;
        return (
          <g key={g.k}>
            <line x1={x(g.pos)} x2={x(g.pos)} y1={y(q3)} y2={y(hi)} stroke="#111" strokeWidth={1.5} />
            <line x1={x(g.pos)} x2={x(g.pos)} y1={y(q1)} y2={y(lo)} stroke="#111" strokeWidth={1.5} />
            <rect x={x(g.pos - half)} y={y(q3)} width={x(g.pos + half) - x(g.pos - half)} height={y(q1) - y(q3)} fill={g.fill} stroke="#222" strokeWidth={1.5} />
            <line x1={x(g.pos - half)} x2={x(g.pos + half)} y1={y(med)} y2={y(med)} stroke="#111" strokeWidth={2.6} />
            {g.out.map((v, i) => (
              <circle key={"o" + i} cx={x(g.pos)} cy={y(v)} r={2.6} fill="#111" />
            ))}
          </g>
        );
      })}
      {/* significance bracket */}
      <path d={`M${x(1)},${y(bT)}V${y(bY)}H${x(2)}V${y(bT)}`} fill="none" stroke="#555" strokeWidth={1} />
      <text x={(x(1) + x(2)) / 2} y={y(bY) - 3} textAnchor="middle" fontSize={11.5} fill="#111">{drugPValues[idx]}</text>
      {/* axes */}
      <line x1={lay.l} x2={lay.l} y1={lay.t} y2={lay.b} stroke="#111" strokeWidth={1.5} />
      <line x1={lay.l} x2={lay.r} y1={lay.b} y2={lay.b} stroke="#111" strokeWidth={1.5} />
      {drugTicks[idx].map((v) => (
        <g key={"t" + v}>
          <line x1={lay.l - 4} x2={lay.l} y1={y(v)} y2={y(v)} stroke="#111" strokeWidth={1.2} />
          <text x={lay.l - 6} y={y(v) + 4} textAnchor="end" fontSize={lay.tickFs} fill="#222">{fmt(v)}</text>
        </g>
      ))}
      {groups.map((g) => (
        <g key={"xl" + g.k}>
          <line x1={x(g.pos)} x2={x(g.pos)} y1={lay.b} y2={lay.b + 4} stroke="#111" strokeWidth={1.2} />
          <text x={x(g.pos)} y={lay.b + 15} textAnchor="middle" fontSize={12.5} fill="#222">{g.k}</text>
        </g>
      ))}
      <text x={cx} y={lay.b + 30} textAnchor="middle" fontSize={12.7} fill="#000">Risk</text>
      <text transform={`translate(${lay.ytx + 4.5},${(lay.t + lay.b) / 2}) rotate(-90)`} textAnchor="middle" fontSize={12.7} fill="#000">
        {drugNames[idx]}
      </text>
    </g>
  );
}

export default function App() {
  return (
    <svg width={1944} height={1116} style={{ position: "absolute", left: 0, top: 0, background: "#fff" }}>
      <rect x={0} y={0} width={1944} height={1116} fill="#fff" />
      <CorrelationPanel />
      <ScatterPanel idx={0} values={cd274Cluster} tail={cd274Tail} density={cd274Density} ticks={cd274Ticks} tickFmt=".1f" />
      <ScatterPanel idx={1} values={ctla4Cluster} tail={ctla4Tail} density={ctla4Density} ticks={ctla4Ticks} tickFmt="d" />
      <ScatterPanel idx={2} values={havcr2Cluster} tail={havcr2Tail} density={havcr2Density} ticks={havcr2Ticks} tickFmt="d" />
      <ScatterPanel idx={3} values={ido1Cluster} tail={ido1Tail} density={ido1Density} ticks={ido1Ticks} tickFmt="d" />
      <ScatterPanel idx={4} values={pdcd1Cluster} tail={pdcd1Tail} density={pdcd1Density} ticks={pdcd1Ticks} tickFmt="d" />
      <ScatterPanel idx={5} values={pdcd1lg2Cluster} tail={pdcd1lg2Tail} density={pdcd1lg2Density} ticks={pdcd1lg2Ticks} tickFmt="d" />
      <BoxPanel idx={0} low={cisplatinLow} high={cisplatinHigh} lowOut={cisplatinLowOut} highOut={cisplatinHighOut} />
      <BoxPanel idx={1} low={gemcitabineLow} high={gemcitabineHigh} lowOut={gemcitabineLowOut} highOut={gemcitabineHighOut} />
      <BoxPanel idx={2} low={metforminLow} high={metforminHigh} lowOut={metforminLowOut} highOut={metforminHighOut} />
      <BoxPanel idx={3} low={nilotinibLow} high={nilotinibHigh} lowOut={nilotinibLowOut} highOut={nilotinibHighOut} />
      {letters.map(([t, lx, ly]) => (
        <text key={t} x={lx} y={ly} fontFamily={LETTER_FONT} fontWeight={300} fontSize={34} fill="#111">{t}</text>
      ))}
    </svg>
  );
}
